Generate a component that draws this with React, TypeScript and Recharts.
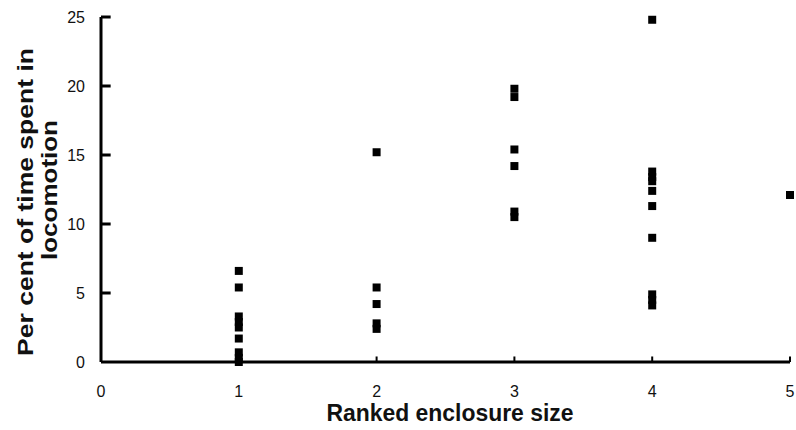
import { ScatterChart, Scatter, XAxis, YAxis, ZAxis, ReferenceLine } from 'recharts';

// per cent of time in locomotion, grouped by ranked enclosure size
const rank1 = [6.6, 5.4, 3.3, 2.9, 2.5, 1.7, 0.7, 0.3, 0];
const rank2 = [15.2, 5.4, 4.2, 2.8, 2.4];
const rank3 = [19.8, 19.2, 15.4, 14.2, 10.9, 10.5];
const rank4 = [24.8, 13.8, 13.4, 13.1, 12.4, 11.3, 9.0, 4.9, 4.5, 4.1];
const rank5 = [12.1];

const xTicks = [0, 1, 2, 3, 4, 5];
const yTicks = [0, 5, 10, 15, 20, 25];

const groups = [rank1, rank2, rank3, rank4, rank5];
const points = groups.flatMap((vals, i) => vals.map((y) => ({ x: i + 1, y })));

const FONT = 'Liberation Sans, Arial, sans-serif';
const tickFont = { fontSize: 16, fontFamily: FONT, fill: '#111' };

const YLabel = () => (
  <g fontFamily={FONT} fontWeight="bold" fontSize={22} fill="#111">
    <text x={33} y={202} textAnchor="middle" textLength={308} lengthAdjust="spacingAndGlyphs" transform="rotate(-90, 33, 202)">
      Per cent of time spent in
    </text>
    <text x={57} y={190} textAnchor="middle" textLength={140} lengthAdjust="spacingAndGlyphs" transform="rotate(-90, 57, 190)">
      locomotion
    </text>
  </g>
);

const XLabel = () => (
  <text x={450} y={421} textAnchor="middle" fontSize={23} fontWeight="bold" fontFamily={FONT} fill="#111" textLength={247} lengthAdjust="spacingAndGlyphs">
    Ranked enclosure size
  </text>
);

const App = () => {
  return (
    <div style={{ position: 'absolute', left: 0, top: 0, width: 796, height: 430, background: '#fff' }}>
      <ScatterChart width={796} height={430} margin={{ top: 17, right: 6, bottom: 0, left: 0 }}>
        <XAxis
          type="number"
          dataKey="x"
          domain={[0, 5]}
          ticks={xTicks}
          height={68}
          axisLine={{ stroke: '#000', strokeWidth: 3 }}
          tickLine={false}
          tickSize={0}
          tickMargin={24}
          tick={tickFont}
          label={<XLabel />}
        />
        <YAxis
          type="number"
          dataKey="y"
          domain={[0, 25]}
          ticks={yTicks}
          width={101}
          axisLine={{ stroke: '#000', strokeWidth: 3 }}
          tickLine={false}
          tickSize={0}
          tickMargin={16}
          tick={tickFont}
          label={<YLabel />}
        />
        <ZAxis range={[64, 64]} />
        {/* short inward tick marks, as in the original */}
        {yTicks.slice(1).map((t) => (
          <ReferenceLine key={'y' + t} segment={[{ x: 0, y: t }, { x: 0.07, y: t }]} stroke="#000" strokeWidth={3} ifOverflow="visible" />
        ))}
        {xTicks.slice(1).map((t) => (
          <ReferenceLine key={'x' + t} segment={[{ x: t, y: 0 }, { x: t, y: 0.4 }]} stroke="#000" strokeWidth={2} ifOverflow="visible" />
        ))}
        <Scatter data={points} fill="#000" shape="square" isAnimationActive={false} />
      </ScatterChart>
    </div>
  );
};

export default App;
